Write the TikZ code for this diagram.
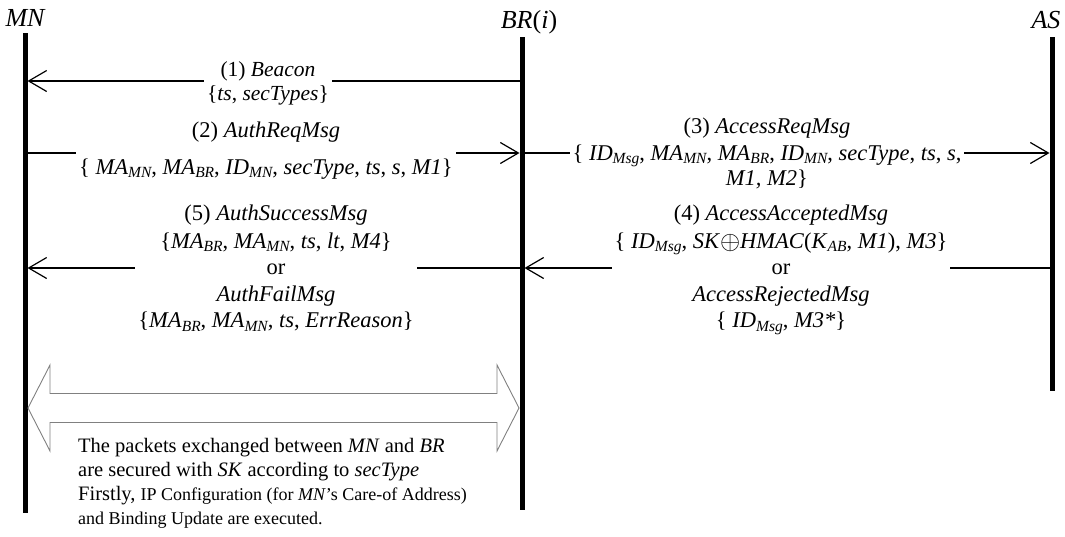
\documentclass[tikz,border=0pt]{standalone}
\usepackage{fontspec}
\usepackage{graphicx}
\setmainfont{Liberation Serif}
\usetikzlibrary{arrows.meta}
\newcommand\sbs[1]{\raisebox{-0.16em}{\fontsize{15.5}{15.5}\selectfont\itshape #1}}
\newcommand\xorsym{\raisebox{-0.05em}{\scalebox{1.25}{$\oplus$}}}
\newcommand\msgfont{\fontsize{22.5}{25}\selectfont}
\newcommand\msglines[1]{\begin{tabular}[t]{@{\hspace{3pt}}c@{\hspace{3pt}}}#1\end{tabular}}
\begin{document}
\begin{tikzpicture}[x=1pt,y=-1pt,
  lifeline/.style={line width=5pt},
  msgarrow/.style={line width=1.2pt,-{Straight Barb[length=18pt,width=21pt]}},
  msglabel/.style={fill=white,inner sep=0pt,anchor=base,font=\msgfont},
  header/.style={anchor=base,inner sep=0pt,font=\fontsize{26}{30}\selectfont\itshape},
  hollow/.style={draw=black!50,line width=0.9pt,line join=miter},
  note/.style={anchor=base west,inner sep=0pt,font=\fontsize{20.5}{24}\selectfont}
]
\useasboundingbox (0,0) rectangle (1065,536);

% headers
\node[header] (MN) at (25,26) {MN};
\node[header] (BR) at (529,28) {BR\textup{(}i\textup{)}};
\node[header] (AS) at (1046,28) {AS};

% lifelines
\coordinate (mnTop) at (25,33);  \coordinate (mnBot) at (25,513);
\coordinate (brTop) at (522,37); \coordinate (brBot) at (522,510);
\coordinate (asTop) at (1052,37); \coordinate (asBot) at (1052,391);
\draw[lifeline] (mnTop) -- (mnBot);
\draw[lifeline] (brTop) -- (brBot);
\draw[lifeline] (asTop) -- (asBot);

% message end points
\coordinate (br1) at (519.5,81);  \coordinate (mn1) at (27.5,81);
\coordinate (mn2) at (27.5,153);  \coordinate (br2) at (519.5,153);
\coordinate (br3) at (524.5,153); \coordinate (as3) at (1049.5,153);
\coordinate (br5) at (519.5,268); \coordinate (mn5) at (27.5,268);
\coordinate (as4) at (1049.5,268); \coordinate (br4) at (524.5,268);

\draw[msgarrow] (br1) -- (mn1);
\draw[msgarrow] (mn2) -- (br2);
\draw[msgarrow] (br3) -- (as3);
\draw[msgarrow] (br5) -- (mn5);
\draw[msgarrow] (as4) -- (br4);

\node[msglabel,font=\fontsize{21.5}{24}\selectfont] (m1) at (268,76) {\msglines{(1) \textit{Beacon}\\
  \{\textit{ts}, \textit{secTypes}\}}};
\node[msglabel] (m2) at (266,137) {\msglines{(2) \textit{AuthReqMsg}\\[12pt]
  \{ \textit{MA}\sbs{MN}, \textit{MA}\sbs{BR}, \textit{ID}\sbs{MN}, \textit{secType}, \textit{ts}, \textit{s}, \textit{M1}\}}};
\node[msglabel] (m3) at (767,133) {\msglines{(3) \textit{AccessReqMsg}\\[2pt]
  \{ \textit{ID}\sbs{Msg}, \textit{MA}\sbs{MN}, \textit{MA}\sbs{BR}, \textit{ID}\sbs{MN}, \textit{secType}, \textit{ts}, \textit{s},\\
  \textit{M1, M2}\}}};
\node[msglabel] (m5) at (276,220) {\msglines{(5) \textit{AuthSuccessMsg}\\[3pt]
  \{\textit{MA}\sbs{BR}, \textit{MA}\sbs{MN}, \textit{ts}, \textit{lt}, \textit{M4}\}\\[1.5pt]
  or\\[1.5pt]
  \textit{AuthFailMsg}\\[1.5pt]
  \{\textit{MA}\sbs{BR}, \textit{MA}\sbs{MN}, \textit{ts}, \textit{ErrReason}\}}};
\node[msglabel] (m4) at (781,220) {\msglines{(4) \textit{AccessAcceptedMsg}\\[3pt]
  \{ \textit{ID}\sbs{Msg}, \textit{SK}\xorsym\textit{HMAC}(\textit{K}\sbs{AB}, \textit{M1}), \textit{M3}\}\\[1.5pt]
  or\\[1.5pt]
  \textit{AccessRejectedMsg}\\[1.5pt]
  \{ \textit{ID}\sbs{Msg}, \textit{M3*}\}}};

% hollow double arrow between MN and BR
\coordinate (dl) at (28,408);
\coordinate (dr) at (519,408);
\draw[hollow] (dl) -- (50,365) -- (50,393.5) -- (497,393.5) -- (497,365) -- (dr)
  -- (497,451) -- (497,422.5) -- (50,422.5) -- (50,451) -- cycle;

% note
\node[note] (note) at (78,452) {\begin{tabular}[t]{@{}l@{}}
  The packets exchanged between \textit{MN} and \textit{BR}\\
  are secured with \textit{SK} according to \textit{secType}\\
  Firstly, {\fontsize{18}{24}\selectfont IP Configuration (for \textit{MN}'s Care-of Address)}\\
  {\fontsize{18}{24}\selectfont and Binding Update are executed.}
\end{tabular}};
\end{tikzpicture}
\end{document}
